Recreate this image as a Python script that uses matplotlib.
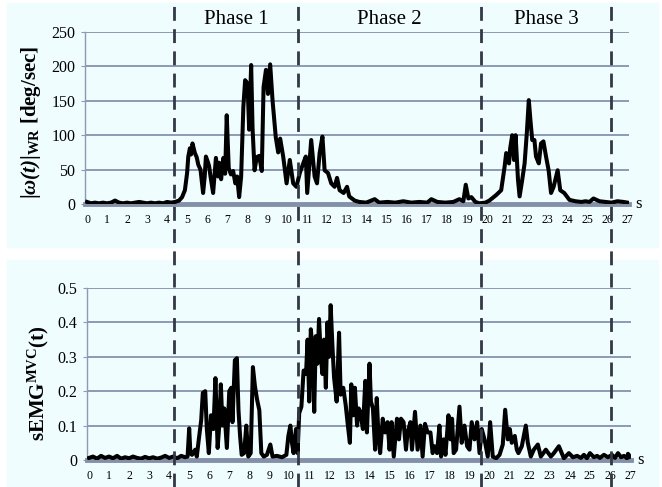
import matplotlib
matplotlib.use('Agg')
import matplotlib.pyplot as plt
from matplotlib.patches import Rectangle
from matplotlib.lines import Line2D
from matplotlib import transforms

plt.rcParams['font.family'] = ['Liberation Serif', 'DejaVu Serif']
plt.rcParams['mathtext.fontset'] = 'custom'
plt.rcParams['mathtext.rm'] = 'Liberation Serif'
plt.rcParams['mathtext.it'] = 'Liberation Serif:italic'
plt.rcParams['mathtext.bf'] = 'Liberation Serif:bold'
plt.rcParams['mathtext.bfit'] = 'Liberation Serif:italic:bold'


# wrist angular velocity |w(t)| [deg/sec]
t_w = [0, 0.2, 0.4, 0.6, 0.8, 1.0, 1.2, 1.4, 1.6, 1.8, 2.0, 2.2, 2.4, 2.6, 2.8, 3.0,
       3.2, 3.4, 3.6, 3.8, 4.0, 4.2, 4.4, 4.6, 4.75, 4.89, 5.0, 5.06, 5.14, 5.2, 5.27,
       5.39, 5.48, 5.56, 5.67, 5.8, 5.88, 5.94, 6.05, 6.1, 6.17, 6.3, 6.44, 6.55, 6.6,
       6.7, 6.81, 6.9, 6.98, 7.08, 7.19, 7.3, 7.41, 7.5, 7.6, 7.7, 7.81, 7.9, 8.02, 8.1,
       8.2, 8.27, 8.37, 8.48, 8.6, 8.73, 8.82, 8.94, 9.04, 9.15, 9.27, 9.43, 9.55, 9.65,
       9.8, 9.97, 10.13, 10.3, 10.46, 10.63, 10.8, 10.93, 11.0, 11.2, 11.37, 11.49,
       11.62, 11.76, 11.87, 12.04, 12.2, 12.37, 12.49, 12.62, 12.82, 12.99, 13.1, 13.37,
       13.6, 13.95, 14.37, 14.6, 15.0, 15.4, 15.8, 16.2, 16.6, 17.0, 17.2, 17.5, 17.9,
       18.3, 18.6, 18.8, 18.92, 19.05, 19.2, 19.4, 19.6, 19.9, 20.1, 20.44, 20.69,
       20.86, 20.94, 21.08, 21.14, 21.24, 21.33, 21.41, 21.53, 21.61, 21.74, 21.86,
       21.97, 22.07, 22.15, 22.24, 22.35, 22.43, 22.57, 22.68, 22.8, 22.93, 23.06,
       23.18, 23.31, 23.51, 23.64, 23.84, 24.1, 24.4, 24.7, 24.9, 25.1, 25.3, 25.6,
       25.9, 26.2, 26.5, 26.8, 27.0]
w = [3, 1, 2, 1, 2, 1, 2, 5, 2, 1, 2, 1, 2, 3, 2, 1,
     2, 1, 2, 1, 3, 2, 3, 5, 10, 20, 45, 69, 81, 72, 88,
     74, 68, 57, 50, 16, 40, 69, 60, 55, 40, 16, 67, 40, 60,
     36, 67, 44, 129, 52, 43, 48, 30, 40, 10, 40, 141, 180, 175, 108,
     202, 110, 49, 68, 70, 48, 170, 195, 160, 203, 150, 97, 75, 95,
     69, 30, 64, 30, 25, 45, 59, 69, 16, 93, 40, 30,
     74, 98, 49, 45, 30, 25, 38, 20, 16, 25, 11, 5,
     3, 2, 7, 2, 3, 2, 4, 2, 3, 2, 7, 3, 2,
     3, 7, 4, 28, 8, 10, 3, 1, 2, 5, 13, 20,
     54, 74, 59, 81, 100, 64, 100, 35, 11, 35, 59,
     103, 151, 122, 93, 93, 69, 59, 88, 91, 69, 49,
     16, 25, 49, 20, 16, 6, 4, 3, 4, 3, 8, 4,
     3, 2, 4, 3, 2]

# normalised sEMG
t_e = [0, 0.2, 0.4, 0.6, 0.8, 1.0, 1.2, 1.4, 1.6, 1.8, 2.0, 2.2, 2.4, 2.6, 2.8, 3.0,
       3.2, 3.4, 3.6, 3.8, 4.0, 4.2, 4.4, 4.6, 4.8, 4.92, 5.0, 5.06, 5.14, 5.3, 5.38,
       5.48, 5.6, 5.68, 5.8, 5.88, 5.98, 6.09, 6.21, 6.31, 6.42, 6.5, 6.58, 6.66, 6.75,
       6.88, 7.0, 7.1, 7.16, 7.28, 7.38, 7.46, 7.54, 7.62, 7.74, 7.85, 7.95, 8.07, 8.18,
       8.28, 8.39, 8.5, 8.6, 8.72, 8.88, 9.05, 9.16, 9.38, 9.63, 9.85, 9.95, 10.05,
       10.13, 10.21, 10.33, 10.41, 10.49, 10.6, 10.71, 10.83, 10.91, 10.99, 11.07,
       11.15, 11.24, 11.32, 11.4, 11.48, 11.57, 11.65, 11.73, 11.82, 11.9, 11.98, 12.06,
       12.15, 12.23, 12.36, 12.48, 12.56, 12.69, 12.81, 12.92, 13.02, 13.09, 13.18,
       13.27, 13.38, 13.46, 13.54, 13.67, 13.79, 13.87, 14.0, 14.07, 14.17, 14.28,
       14.36, 14.44, 14.53, 14.66, 14.78, 14.9, 15.0, 15.1, 15.21, 15.37, 15.47, 15.57,
       15.7, 15.82, 15.9, 16.04, 16.12, 16.27, 16.4, 16.54, 16.65, 16.77, 16.9, 17.04,
       17.15, 17.24, 17.37, 17.49, 17.57, 17.7, 17.79, 17.94, 18.04, 18.12, 18.2,
       18.32, 18.49, 18.6, 18.74, 18.87, 18.99, 19.1, 19.24, 19.37, 19.49, 19.6, 19.74,
       19.9, 20.02, 20.15, 20.32, 20.49, 20.65, 20.77, 20.9, 21.0, 21.1, 21.25, 21.35,
       21.43, 21.6, 21.8, 21.9, 22.05, 22.2, 22.4, 22.55, 22.8, 23.05, 23.2, 23.45,
       23.7, 23.95, 24.15, 24.36, 24.55, 24.7, 24.85, 25.0, 25.2, 25.36, 25.5, 25.7,
       25.9, 26.1, 26.25, 26.4, 26.55, 26.7, 26.85, 26.9, 27.0]
emg = [0.006, 0.01, 0.004, 0.012, 0.006, 0.01, 0.005, 0.012, 0.004, 0.008, 0.005, 0.01,
       0.006, 0.004, 0.009, 0.005, 0.008, 0.004, 0.007, 0.012, 0.006, 0.01, 0.005, 0.012,
       0.008, 0.01, 0.092, 0.02, 0.015, 0.03, 0.01,
       0.06, 0.116, 0.195, 0.2, 0.09, 0.02, 0.13, 0.09, 0.238, 0.035, 0.1, 0.22, 0.1, 0.15,
       0.035, 0.2, 0.21, 0.11, 0.29, 0.296, 0.145, 0.07, 0.015, 0.02, 0.1, 0.01, 0.02, 0.27,
       0.215, 0.175, 0.145, 0.02, 0.01, 0.015, 0.045, 0.01, 0.012, 0.008, 0.015, 0.07, 0.1,
       0.05, 0.02, 0.09, 0.02, 0.136, 0.155, 0.26, 0.25, 0.35, 0.17, 0.38,
       0.33, 0.14, 0.36, 0.28, 0.41, 0.3, 0.25, 0.35, 0.21, 0.4, 0.3, 0.45,
       0.33, 0.24, 0.17, 0.37, 0.19, 0.21, 0.16, 0.1, 0.05, 0.22, 0.13,
       0.21, 0.1, 0.15, 0.14, 0.09, 0.23, 0.08, 0.28, 0.17, 0.15, 0.03,
       0.18, 0.08, 0.02, 0.12, 0.08, 0.11, 0.03, 0.11, 0.01, 0.12, 0.06, 0.12,
       0.11, 0.03, 0.08, 0.11, 0.03, 0.14, 0.03, 0.1, 0.01, 0.105, 0.08, 0.08,
       0.02, 0.04, 0.02, 0.1, 0.01, 0.06, 0.015, 0.13, 0.06, 0.12, 0.02,
       0.03, 0.155, 0.05, 0.1, 0.04, 0.03, 0.11, 0.06, 0.11, 0.02, 0.09, 0.06,
       0.01, 0.11, 0.01, 0.005, 0.015, 0.045, 0.146, 0.06, 0.09, 0.05, 0.07, 0.03,
       0.02, 0.04, 0.1, 0.05, 0.01, 0.03, 0.045, 0.01, 0.03, 0.01, 0.02, 0.04,
       0.005, 0.02, 0.008, 0.012, 0.006, 0.015, 0.005, 0.02, 0.008, 0.012, 0.006, 0.015,
       0.008, 0.015, 0.006, 0.02, 0.008, 0.012, 0.005, 0.018, 0.01]

phase_edges = [4.33, 10.55, 19.68, 26.2]
phase_names = ['Phase 1', 'Phase 2', 'Phase 3']
xticks = list(range(0, 28))

bg = '#EFFDFF'
grid_c = '#8C9AB2'
axis_c = '#8390A8'

W, H = 662, 487
fig = plt.figure(figsize=(W / 100, H / 100), dpi=100)
fig.patch.set_facecolor('white')

# panel backgrounds
fig.patches.append(Rectangle((7 / W, (H - 247) / H), 651 / W, 244 / H,
                             transform=fig.transFigure, color=bg, zorder=-10))
fig.patches.append(Rectangle((7 / W, 1 / H), 651 / W, 226 / H,
                             transform=fig.transFigure, color=bg, zorder=-10))

ax1 = fig.add_axes([85 / W, (H - 204) / H, 543.5 / W, 172 / H])
ax2 = fig.add_axes([87 / W, (H - 460) / H, 544 / W, 172 / H])


def style(ax, ymax, ystep, fmt):
    ax.set_facecolor('none')
    ax.set_xlim(-0.1, 27.05)
    ax.set_ylim(0, ymax)
    yt = [i * ystep for i in range(int(round(ymax / ystep)) + 1)]
    ax.set_yticks(yt)
    ax.set_yticklabels([fmt(v) for v in yt], fontsize=11.5)
    ax.set_xticks(xticks)
    ax.set_xticklabels([str(v) for v in xticks], fontsize=8.5)
    ax.grid(axis='y', color=grid_c, lw=1.4)
    ax.set_axisbelow(True)
    for s in ['top', 'right']:
        ax.spines[s].set_visible(False)
    ax.spines['left'].set_color(grid_c)
    ax.spines['left'].set_linewidth(1.0)
    ax.spines['bottom'].set_color(axis_c)
    ax.spines['bottom'].set_linewidth(3.5)
    ax.spines['bottom'].set_zorder(1)
    ax.tick_params(axis='x', length=0, pad=7)
    ax.tick_params(axis='y', length=3, color=grid_c, pad=4)


style(ax1, 250, 50, lambda v: '%d' % v)
style(ax2, 0.5, 0.1, lambda v: '0' if v == 0 else '%.1f' % v)

ax1.plot(t_w, w, color='black', lw=2.9, solid_joinstyle='round', zorder=3)
ax2.plot(t_e, emg, color='black', lw=2.9, solid_joinstyle='round', zorder=3)

ax1.text(1.012, 0.0, 's', transform=ax1.transAxes, fontsize=12, ha='left', va='center')
ax2.text(1.012, 0.0, 's', transform=ax2.transAxes, fontsize=12, ha='left', va='center')

fig.text(31 / W, 1 - 122 / H, r'|$\mathbfit{\omega(t)}$|$_{\mathbf{WR}}$ [deg/sec]',
         rotation=90, ha='center', va='center', fontsize=15, fontweight='bold')
fig.text(38 / W, 1 - 383 / H, r'sEMG$^{\mathbf{MVC}}$(t)',
         rotation=90, ha='center', va='center', fontsize=15, fontweight='bold')

# phase boundaries through both panels
tr = transforms.blended_transform_factory(ax1.transData, fig.transFigure)
for xe in phase_edges:
    fig.add_artist(Line2D([xe, xe], [0, 1], transform=tr, color='#333844',
                          lw=2.0, linestyle=(0, (5, 3)), zorder=5))

for i, name in enumerate(phase_names):
    xc = (phase_edges[i] + phase_edges[i + 1]) / 2
    fig.text(xc, 1 - 20 / H, name, transform=tr, ha='center', va='center', fontsize=15)

fig.savefig('out.png', dpi=100, facecolor=fig.get_facecolor())
